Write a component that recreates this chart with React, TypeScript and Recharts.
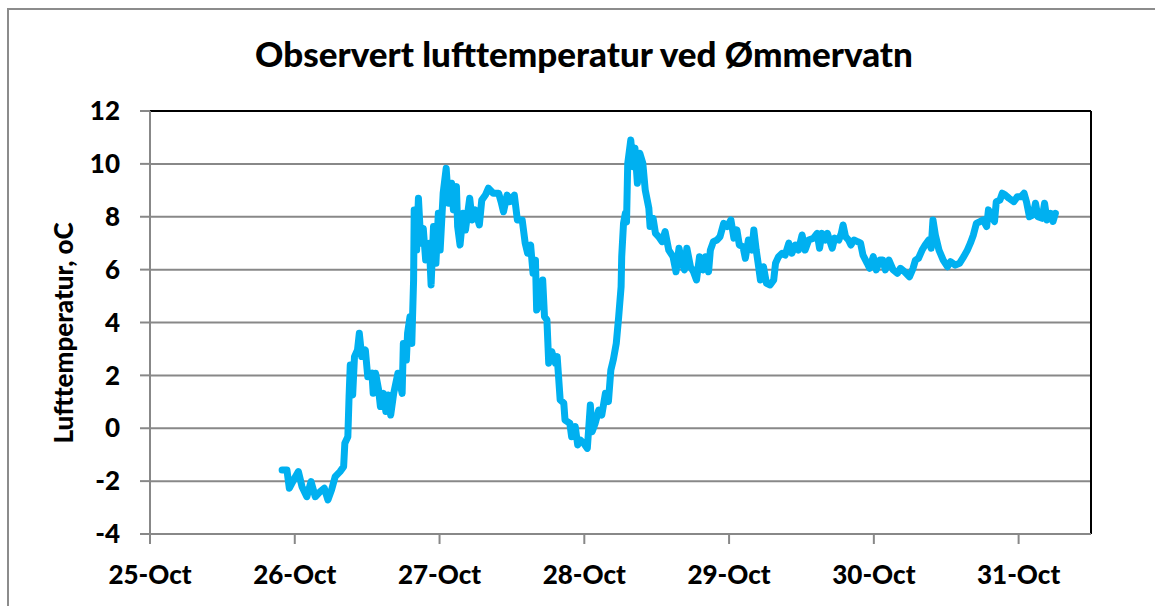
import React from 'react';
import { LineChart, Line, XAxis, YAxis, CartesianGrid, ReferenceLine } from 'recharts';

// hours since 25-Oct 00:00
const hours = [
  21.9, 22.7, 23.1, 23.8, 24.6, 25.2, 26.0, 26.7, 27.4, 28.2, 28.9, 29.5, 30.1, 30.7, 31.5, 32.1,
  32.3, 32.8, 33.0, 33.2, 33.6, 33.9, 34.4, 34.7, 35.1, 35.7, 36.1, 36.8, 37.0, 37.4, 37.9, 38.2,
  38.7, 39.1, 39.5, 39.9, 40.4, 41.1, 41.8, 42.0, 42.5, 42.7, 43.1, 43.4, 43.7, 43.8, 44.2, 44.5,
  44.9, 45.3, 45.7, 46.3, 46.6, 47.0, 47.4, 47.8, 48.1, 48.6, 49.1, 49.5, 50.0, 50.3, 50.8, 51.0,
  51.4, 51.9, 52.3, 53.0, 53.4, 53.9, 54.6, 55.0, 55.6, 56.1, 56.9, 57.8, 58.2, 58.6, 59.2, 59.7,
  60.4, 60.9, 61.7, 62.2, 62.6, 63.1, 63.5, 63.9, 64.1, 64.6, 65.1, 65.4, 65.8, 66.1, 66.6, 67.2,
  67.5, 68.0, 68.6, 68.8, 69.6, 69.9, 70.5, 70.9, 71.3, 71.9, 72.5, 73.0, 73.3, 73.8, 74.4, 74.9,
  75.5, 76.0, 76.4, 76.8, 77.3, 77.7, 78.1, 78.2, 78.5, 78.8, 79.0, 79.2, 79.7, 80.1, 80.4, 80.8,
  81.2, 81.7, 82.1, 82.7, 82.9, 83.4, 83.8, 84.3, 84.9, 85.4, 86.0, 86.7, 87.2, 87.7, 88.2, 88.6,
  89.0, 89.6, 90.1, 90.6, 91.1, 91.7, 92.1, 92.6, 92.9, 93.4, 94.0, 94.5, 95.1, 95.7, 96.3, 96.8,
  97.3, 97.7, 98.3, 98.7, 99.2, 99.8, 100.1, 100.5, 100.9, 101.2, 101.7, 102.2, 102.8, 103.4, 103.7, 104.2,
  104.8, 105.3, 105.9, 106.4, 107.0, 107.5, 108.1, 108.6, 109.2, 110.0, 110.6, 111.0, 111.4, 112.0, 112.3, 113.1,
  113.5, 114.2, 114.6, 114.9, 115.3, 115.8, 116.2, 116.7, 117.3, 117.8, 118.2, 118.9, 119.3, 119.9, 120.4, 121.0,
  121.5, 121.9, 122.5, 123.2, 123.9, 124.4, 125.1, 125.9, 126.5, 126.9, 127.4, 128.0, 128.5, 129.1, 129.5, 129.8,
  130.2, 130.8, 131.5, 132.2, 132.7, 133.5, 134.2, 134.9, 135.5, 136.0, 136.5, 137.0, 137.6, 138.1, 138.7, 139.0,
  139.6, 140.0, 140.3, 140.9, 141.3, 141.8, 142.4, 143.2, 143.8, 144.4, 144.9, 145.3, 145.8, 146.4, 146.8, 147.2,
  147.9, 148.3, 148.7, 149.3, 149.7, 150.1,
];

const temps = [
  -1.58, -1.58, -2.27, -1.96, -1.64, -2.21, -2.59, -2.02, -2.59, -2.4, -2.27, -2.71, -2.33, -1.83, -1.64, -1.45,
  -0.57, -0.32, 1.19, 2.39, 1.26, 2.71, 2.96, 3.59, 2.71, 2.96, 1.95, 2.08, 1.32, 2.08, 1.45, 0.82,
  1.32, 0.63, 1.26, 0.5, 1.32, 2.08, 1.32, 3.21, 2.58, 3.59, 4.22, 3.21, 5.61, 8.26, 6.74, 8.7,
  7.0, 7.56, 6.36, 7.0, 5.42, 7.63, 6.24, 8.13, 6.74, 8.89, 9.83, 8.51, 9.27, 8.26, 9.14, 7.63,
  6.93, 8.13, 7.5, 8.7, 7.88, 8.26, 7.69, 8.63, 8.82, 9.08, 8.89, 8.89, 8.57, 8.19, 8.82, 8.57,
  8.82, 7.88, 7.88, 7.0, 6.62, 6.93, 5.86, 6.36, 4.47, 4.73, 5.61, 4.22, 4.1, 2.46, 2.9, 2.46,
  2.71, 1.07, 0.95, 0.31, 0.19, -0.32, 0.06, -0.63, -0.44, -0.57, -0.76, 0.88, -0.13, 0.19, 0.69, 0.5,
  1.32, 1.01, 2.2, 2.58, 3.21, 4.22, 5.35, 6.49, 7.75, 8.13, 7.8, 10.02, 10.9, 9.89, 10.59, 9.27,
  10.4, 10.02, 9.01, 8.32, 7.63, 7.94, 7.37, 7.25, 7.06, 7.44, 6.74, 6.49, 5.92, 6.81, 6.24, 5.99,
  6.81, 6.11, 5.92, 5.61, 6.49, 5.99, 6.49, 5.92, 6.74, 7.06, 7.12, 7.25, 7.75, 7.63, 7.88, 7.19,
  7.5, 6.93, 6.87, 6.43, 7.12, 6.74, 7.5, 6.74, 6.11, 5.61, 6.11, 5.48, 5.42, 5.61, 6.24, 6.49,
  6.62, 6.55, 7.0, 6.62, 6.93, 6.74, 7.31, 6.74, 7.12, 7.19, 7.37, 6.81, 7.37, 7.12, 7.37, 6.81,
  7.19, 7.12, 7.37, 7.69, 7.25, 7.12, 6.93, 7.12, 7.06, 7.0, 6.55, 6.24, 6.05, 6.49, 5.99, 6.36,
  6.36, 5.99, 6.36, 5.99, 5.86, 6.05, 5.92, 5.73, 6.05, 6.36, 6.43, 6.74, 6.93, 7.12, 6.81, 7.88,
  7.31, 6.74, 6.36, 6.11, 6.3, 6.17, 6.24, 6.49, 6.74, 7.0, 7.31, 7.75, 7.82, 7.88, 7.63, 8.26,
  8.0, 7.82, 8.57, 8.63, 8.89, 8.82, 8.7, 8.57, 8.76, 8.76, 8.89, 8.57, 8.0, 8.07, 8.51, 8.0,
  7.94, 8.51, 7.88, 8.13, 7.82, 8.13,
];

const dayTicks = [0, 24, 48, 72, 96, 120, 144];
const tempTicks = [-4, -2, 0, 2, 4, 6, 8, 10, 12];

const data = hours.map((h, i) => ({ h, t: temps[i] }));

const font = 'Lato, "Open Sans", sans-serif';
const grey = '#888888';

export default function App() {
  return (
    <div style={{ position: 'fixed', left: 0, top: 0, width: 1155, height: 606, background: '#fff', overflow: 'hidden', fontFamily: font }}>
      <div style={{ position: 'absolute', left: 7, top: 8, width: 1200, height: 700, borderLeft: '2px solid #8c8c8c', borderTop: '2px solid #8c8c8c' }} />
      <div style={{ position: 'absolute', left: 0, top: 32, width: 1168, textAlign: 'center', fontWeight: 900, fontSize: 35, color: '#000' }}>
        Observert lufttemperatur ved Ømmervatn
      </div>
      <div style={{ position: 'absolute', left: 63, top: 333, transform: 'translate(-50%, -50%) rotate(-90deg)', whiteSpace: 'nowrap', fontWeight: 900, fontSize: 26, color: '#000' }}>
        Lufttemperatur, oC
      </div>
      <div style={{ position: 'absolute', left: 0, top: 0 }}>
        <LineChart width={1155} height={606} data={data} margin={{ top: 111, right: 64, bottom: 32, left: 90 }}>
          <CartesianGrid vertical={false} stroke={grey} strokeWidth={2} />
          <ReferenceLine y={12} stroke="#000" strokeWidth={2} />
          <ReferenceLine x={156} stroke="#000" strokeWidth={2} />
          <XAxis
            dataKey="h"
            type="number"
            domain={[0, 156]}
            ticks={dayTicks}
            allowDataOverflow
            tickFormatter={(v: number) => `${25 + v / 24}-Oct`}
            height={40}
            tickSize={10}
            tickMargin={22}
            stroke={grey}
            strokeWidth={2}
            tick={{ fill: '#000', fontSize: 26, fontWeight: 900, fontFamily: font }}
          />
          <YAxis
            type="number"
            domain={[-4, 12]}
            ticks={tempTicks}
            width={60}
            tickSize={10}
            tickMargin={20}
            stroke={grey}
            strokeWidth={2}
            tick={{ fill: '#000', fontSize: 26, fontWeight: 900, fontFamily: font }}
          />
          <Line
            type="linear"
            dataKey="t"
            stroke="#00B0F0"
            strokeWidth={7}
            strokeLinejoin="round"
            strokeLinecap="round"
            dot={false}
            isAnimationActive={false}
          />
        </LineChart>
      </div>
    </div>
  );
}
